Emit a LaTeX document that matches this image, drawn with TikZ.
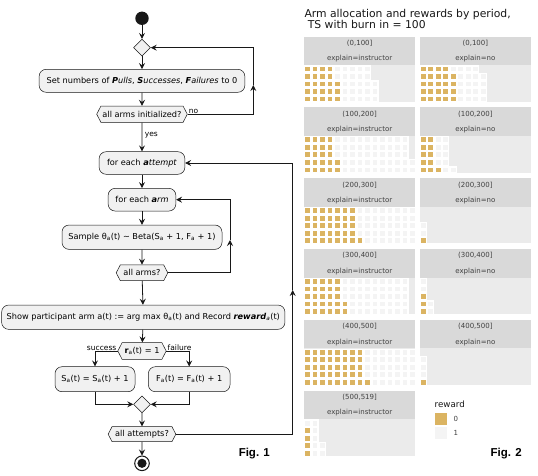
\documentclass[tikz,border=0pt]{standalone}
\usepackage{fontspec}
\setmainfont{DejaVu Sans}
\newfontfamily\figfont{Liberation Sans}
\usetikzlibrary{shapes.geometric,shapes.symbols,arrows.meta}
\definecolor{boxfill}{HTML}{F1F1F1}
\definecolor{ink}{HTML}{181818}
\definecolor{hdr}{HTML}{D9D9D9}
\definecolor{panelbg}{HTML}{EBEBEB}
\definecolor{wgold}{HTML}{DBB462}
\definecolor{wlight}{HTML}{F4F4F4}
\definecolor{striptext}{HTML}{404040}
\newcommand\sba{\textsubscript{a}}
\newcommand\mywaffle[4]{%
  \pgfmathtruncatemacro\wtot{#3+#4-1}%
  \foreach \i in {0,...,\wtot}{%
    \pgfmathtruncatemacro\wc{div(\i,5)}%
    \pgfmathtruncatemacro\wr{4-mod(\i,5)}%
    \pgfmathsetmacro\wx{#1+7.5*\wc}%
    \pgfmathsetmacro\wy{#2+7.5*\wr}%
    \ifnum\i<#3 \def\wcol{wgold}\else\def\wcol{wlight}\fi
    \fill[white] (\wx-1.35,\wy-1.35) rectangle ++(7.5,7.5);
    \fill[\wcol] (\wx,\wy) rectangle ++(4.8,4.8);
  }}
\newcommand\mypanel[7]{%
  \pgfmathsetmacro\pT{#2}\pgfmathsetmacro\pH{#2+28.4}\pgfmathsetmacro\pB{#2+65}%
  \pgfmathsetmacro\pR{#1+110.7}\pgfmathsetmacro\pC{#1+55.35}%
  \pgfmathsetmacro\pA{#2+6.7}\pgfmathsetmacro\pE{#2+22.3}%
  \fill[hdr] (#1,\pT) rectangle (\pR,\pH);
  \fill[panelbg] (#1,\pH) rectangle (\pR,\pB);
  \node[striplabel] (#7a) at (\pC,\pA) {#3};
  \node[striplabel] (#7b) at (\pC,\pE) {#4};
  \pgfmathsetmacro\pX{#1+0.7}\pgfmathsetmacro\pY{#2+30}%
  \mywaffle{\pX}{\pY}{#5}{#6}}
\begin{document}
\begin{tikzpicture}[x=1pt,y=-1pt,
  flowbox/.style={draw=ink, line width=0.5pt, fill=boxfill, rounded corners=7pt, inner sep=0pt, font=\fontsize{8.2}{10}\selectfont},
  hexa/.style={signal, signal to=west and east, signal pointer angle=125, draw=ink, line width=0.5pt, fill=boxfill, inner sep=0pt, font=\fontsize{8.2}{10}\selectfont},
  dia/.style={diamond, draw=ink, line width=0.5pt, fill=boxfill, minimum width=17pt, minimum height=17pt, inner sep=0pt},
  flowline/.style={draw=ink, line width=0.8pt, -{Stealth[length=6pt,width=6pt,inset=2.2pt]}},
  plainline/.style={draw=ink, line width=0.8pt},
  lab/.style={font=\fontsize{7.5}{9}\selectfont, inner sep=0.5pt},
  striplabel/.style={font=\fontsize{7}{8}\selectfont, text=striptext, inner sep=0pt},
  figlab/.style={font={\figfont\bfseries\fontsize{11.5}{13}\selectfont}, inner sep=0pt}
]
\useasboundingbox (0,0) rectangle (538,476);
\fill[white] (0,0) rectangle (538,476);

% ---------- Fig. 1 flowchart ----------
\node[circle, fill=ink, minimum size=13.4pt, inner sep=0pt] (start) at (142,18.3) {};
\node[dia] (d1) at (142,47.7) {};
\node[flowbox, minimum width=205.7pt, minimum height=23pt] (init) at (142,80.8)
  {Set numbers of \textbf{\textit{P}}\textit{ulls}, \textbf{\textit{S}}\textit{uccesses}, \textbf{\textit{F}}\textit{ailures} to 0};
\node[hexa, minimum width=90.6pt, minimum height=16.3pt] (hex1) at (142,114.2) {all arms initialized?};
\node[flowbox, minimum width=85.7pt, minimum height=22.6pt] (attempt) at (142,163) {for each \textbf{\textit{a}}\textit{ttempt}};
\node[flowbox, minimum width=67.7pt, minimum height=22.7pt] (arm) at (142,199.7) {for each \textbf{\textit{a}}\textit{rm}};
\node[flowbox, minimum width=160pt, minimum height=24.3pt] (sample) at (142,237.2)
  {Sample θ\sba(t) \textasciitilde{} Beta(S\sba{} + 1, F\sba{} + 1)};
\node[hexa, minimum width=51.6pt, minimum height=15.7pt] (hex2) at (142,272.8) {all arms?};
\node[flowbox, minimum width=283.3pt, minimum height=24.3pt] (show) at (143.3,317.2)
  {Show participant arm a(t) := arg max θ\sba(t) and Record \textbf{\textit{reward}}\textsubscript{\textit{a}}(t)};
\node[hexa, minimum width=48.4pt, minimum height=16.6pt] (hex3) at (142,351) {\textbf{r}\sba(t) = 1};
\node[flowbox, minimum width=80pt, minimum height=25pt] (sbox) at (95,379.2) {S\sba(t) = S\sba(t) + 1};
\node[flowbox, minimum width=81.7pt, minimum height=25pt] (fbx) at (189.2,379.2) {F\sba(t) = F\sba(t) + 1};
\node[dia] (d2) at (142,404.3) {};
\node[hexa, minimum width=67.7pt, minimum height=15pt] (hex4) at (142,434.2) {all attempts?};
\node[circle, draw=ink, line width=1pt, fill=white, minimum size=14.6pt, inner sep=0pt] (end) at (142,463.3) {};
\fill[ink] (end.center) circle (4.6pt);

\coordinate (n1) at (253.3,114.2);
\coordinate (n2) at (253.3,85);
\coordinate (n3) at (253.3,47.7);
\coordinate (r1) at (230,272.8);
\coordinate (r2) at (230,240);
\coordinate (r3) at (230,199.7);
\coordinate (a1) at (292.7,434.2);
\coordinate (a2) at (292.7,290);
\coordinate (a3) at (292.7,163);
\coordinate (b1) at (95,351);
\coordinate (b2) at (189.2,351);
\coordinate (m1) at (95,404.3);
\coordinate (m2) at (189.2,404.3);

\draw[flowline] (start) -- (d1);
\draw[flowline] (d1) -- (init);
\draw[flowline] (init) -- (hex1);
\draw[flowline] (hex1) -- node[lab, pos=0.45, anchor=west, xshift=2pt] (lyes) {yes} (attempt);
\draw[flowline] (hex1.east) -- (n1) -- (n2);
\draw[flowline] (n2) -- (n3) -- (d1.east);
\node[lab, anchor=south west] (lno) at ([xshift=0.5pt]hex1.east) {no};
\draw[flowline] (attempt) -- (arm);
\draw[flowline] (arm) -- (sample);
\draw[flowline] (sample) -- (hex2);
\draw[flowline] (hex2.east) -- (r1) -- (r2);
\draw[flowline] (r2) -- (r3) -- (arm.east);
\draw[flowline] (hex2) -- (show);
\draw[flowline] (show) -- (hex3);
\draw[flowline] (hex3.west) -- (b1) -- (sbox.north);
\draw[flowline] (hex3.east) -- (b2) -- (fbx.north);
\node[lab, anchor=south east] (lsucc) at ([xshift=-0.5pt,yshift=-0.3pt]hex3.west) {success};
\node[lab, anchor=south west] (lfail) at ([xshift=0.5pt,yshift=-0.3pt]hex3.east) {failure};
\draw[flowline] (sbox.south) -- (m1) -- (d2.west);
\draw[flowline] (fbx.south) -- (m2) -- (d2.east);
\draw[flowline] (d2) -- (hex4);
\draw[flowline] (hex4) -- (end);
\draw[flowline] (hex4.east) -- (a1) -- (a2);
\draw[flowline] (a2) -- (a3) -- (attempt.east);

\node[figlab] (fig1) at (254.3,453.3) {Fig. 1};

% ---------- Fig. 2 waffle panels ----------
\node[anchor=base west, font=\fontsize{10.8}{12}\selectfont, inner sep=0pt, text=ink] (title1) at (304.3,17.3) {Arm allocation and rewards by period,};
\node[anchor=base west, font=\fontsize{10.8}{12}\selectfont, inner sep=0pt, text=ink] (title2) at (307.6,28.6) {TS with burn in = 100};

\mypanel{304.3}{36.7}{(0,100]}{explain=instructor}{23}{25}{pa}
\mypanel{420}{36.7}{(0,100]}{explain=no}{24}{20}{pb}
\mypanel{304.3}{107.5}{(100,200]}{explain=instructor}{22}{50}{pc}
\mypanel{420}{107.5}{(100,200]}{explain=no}{11}{10}{pd}
\mypanel{304.3}{178.3}{(200,300]}{explain=instructor}{36}{39}{pe}
\mypanel{420}{178.3}{(200,300]}{explain=no}{1}{2}{pf}
\mypanel{304.3}{249.1}{(300,400]}{explain=instructor}{27}{43}{pg}
\mypanel{420}{249.1}{(300,400]}{explain=no}{3}{4}{ph}
\mypanel{304.3}{319.9}{(400,500]}{explain=instructor}{41}{34}{pi}
\mypanel{420}{319.9}{(400,500]}{explain=no}{1}{3}{pj}
\mypanel{304.3}{390.7}{(500,519]}{explain=instructor}{4}{8}{pk}

% legend
\node[anchor=west, font=\fontsize{8.7}{10}\selectfont, inner sep=0pt, text=ink] (legtitle) at (434.5,404) {reward};
\fill[wgold] (435,413.3) rectangle (447.3,425.3);
\fill[wlight] (435,427.3) rectangle (447.3,439.3);
\node[anchor=west, font=\fontsize{7}{8}\selectfont, inner sep=0pt, text=striptext] (leg0) at (453.5,419.3) {0};
\node[anchor=west, font=\fontsize{7}{8}\selectfont, inner sep=0pt, text=striptext] (leg1) at (453.5,433.3) {1};

\node[figlab] (fig2) at (506.2,453.3) {Fig. 2};
\end{tikzpicture}
\end{document}
